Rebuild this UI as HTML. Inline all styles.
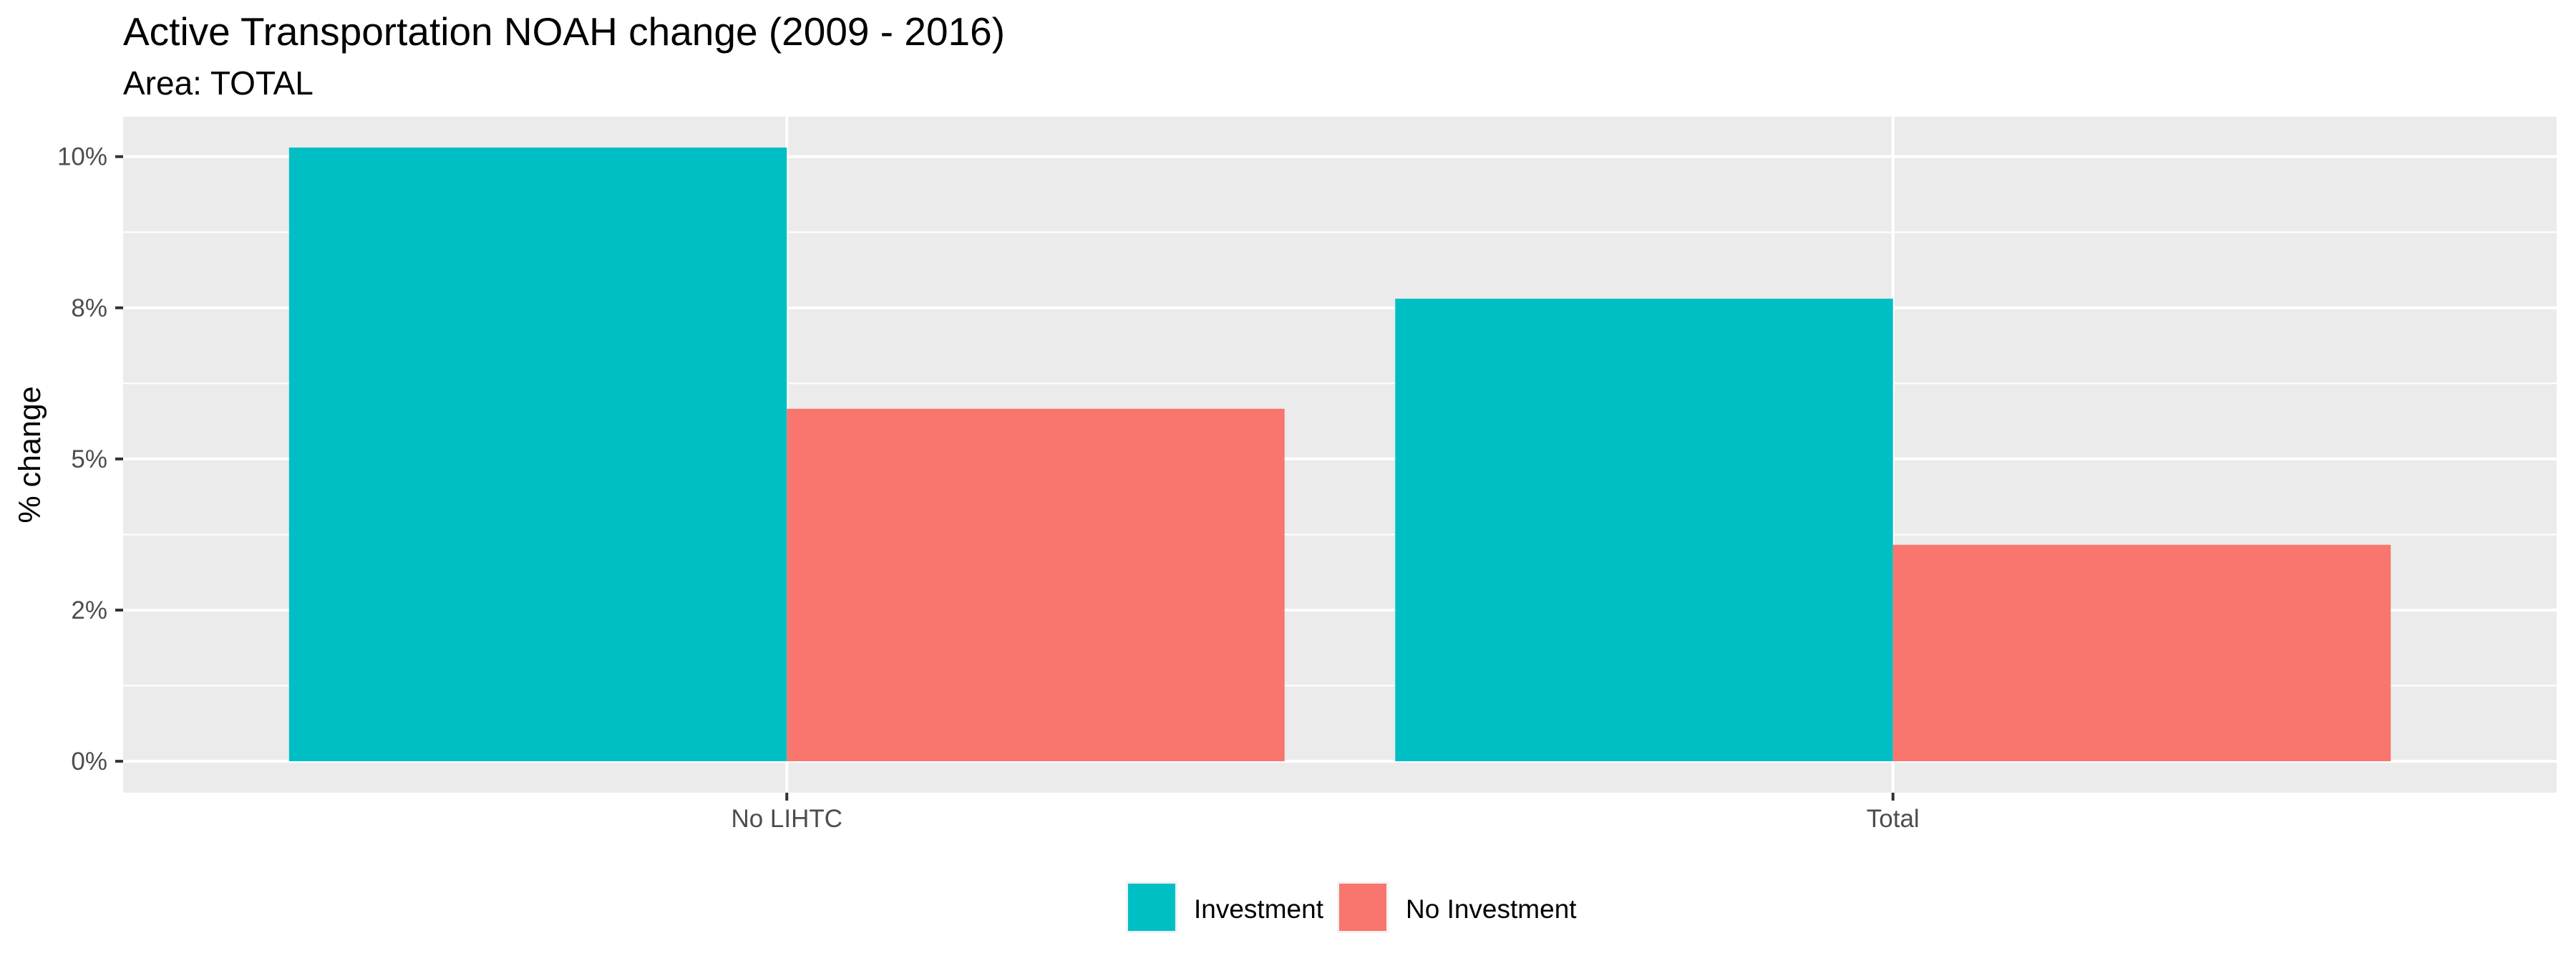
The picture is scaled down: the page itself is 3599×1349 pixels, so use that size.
<!DOCTYPE html>
<html><head><meta charset="utf-8"><style>
html,body{margin:0;padding:0;background:#fff}
svg{display:block;font-family:"Liberation Sans",Arial,sans-serif}
</style></head><body>
<svg id="chart" width="3599" height="1349" viewBox="0 0 3599 1349" xmlns="http://www.w3.org/2000/svg">
<text x="172" y="63" font-size="55" fill="#000">Active Transportation NOAH change (2009 - 2016)</text>
<text x="172" y="132" font-size="46" fill="#000">Area: TOTAL</text>
<rect x="172" y="163" width="3400" height="944" fill="#ebebeb"/>
<g id="grid"></g>
<g id="bars"></g>
<g id="yaxis"></g>
<g id="xaxis"></g>
<text transform="translate(56,635) rotate(-90)" text-anchor="middle" font-size="43" fill="#000">% change</text>
<g>
<rect x="1573" y="1231" width="72" height="72" fill="#f2f2f2"/>
<rect x="1576" y="1234" width="66" height="66" fill="#00BFC4"/>
<text x="1668" y="1282" font-size="37" fill="#000">Investment</text>
<rect x="1868" y="1231" width="72" height="72" fill="#f2f2f2"/>
<rect x="1871" y="1234" width="66" height="66" fill="#F8766D"/>
<text x="1964" y="1282" font-size="37" fill="#000">No Investment</text>
</g>
</svg>
<script>
const categories = ["No LIHTC", "Total"];
const seriesNames = ["Investment", "No Investment"];
const investment = [10.15, 7.65];
const noInvestment = [5.83, 3.58];
const yTicks = [0, 2.5, 5, 7.5, 10];
const yTickLabels = ["0%", "2%", "5%", "8%", "10%"];
const yMinor = [1.25, 3.75, 6.25, 8.75];

const NS = "http://www.w3.org/2000/svg";
const panelL = 172, panelR = 3572, panelT = 163, panelB = 1107;
const yMin = -0.52, yMax = 10.66;
function y(v){ return panelB - (v - yMin) / (yMax - yMin) * (panelB - panelT); }
const unit = (panelR - panelL) / (categories.length - 1 + 1.2);
function xc(i){ return panelL + (0.6 + i) * unit; }
function mk(tag, attrs, parent){
  const e = document.createElementNS(NS, tag);
  for (const k in attrs) e.setAttribute(k, attrs[k]);
  parent.appendChild(e); return e;
}
const grid = document.getElementById("grid");
yMinor.forEach(v => {
  const l = mk("line", {x1: panelL, x2: panelR, y1: y(v), y2: y(v), stroke: "#fff", "stroke-width": 2}, grid);
  
  
});
yTicks.forEach(v => {
  const l = mk("line", {x1: panelL, x2: panelR, y1: y(v), y2: y(v), stroke: "#fff", "stroke-width": 4}, grid);
  
  
});
categories.forEach((c, i) => {
  const l = mk("line", {x1: xc(i), x2: xc(i), y1: panelT, y2: panelB, stroke: "#fff", "stroke-width": 4}, grid);
  
  
});
const bars = document.getElementById("bars");
const barW = unit * 0.45;
const series = [investment, noInvestment];
const colors = ["#00BFC4", "#F8766D"];
categories.forEach((c, i) => {
  series.forEach((s, j) => {
    const x0 = xc(i) - barW + j * barW;
    const top = y(Math.max(0, s[i])), bot = y(Math.min(0, s[i]));
    const r = mk("rect", {x: x0, y: top, width: barW, height: bot - top, fill: colors[j]}, bars);
    
    
  });
});
const ya = document.getElementById("yaxis");
yTicks.forEach((v, i) => {
  const t = mk("line", {x1: panelL - 11, x2: panelL, y1: y(v), y2: y(v), stroke: "#333", "stroke-width": 4}, ya);
  
  
  const tx = mk("text", {x: 150, y: y(v) + 12, "text-anchor": "end", "font-size": 35, fill: "#4d4d4d"}, ya);
  tx.textContent = yTickLabels[i];
  
  
});
const xa = document.getElementById("xaxis");
categories.forEach((c, i) => {
  const t = mk("line", {x1: xc(i), x2: xc(i), y1: panelB, y2: panelB + 11, stroke: "#333", "stroke-width": 4}, xa);
  
  
  const tx = mk("text", {x: xc(i), y: 1155, "text-anchor": "middle", "font-size": 35, fill: "#4d4d4d"}, xa);
  tx.textContent = c;
  
  
});
</script>
</body></html>
